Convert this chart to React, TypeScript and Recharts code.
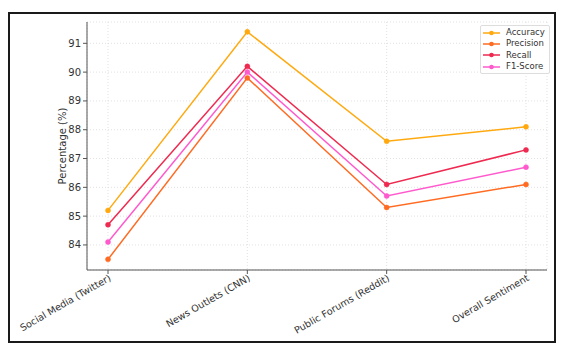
import { LineChart, Line, XAxis, YAxis, CartesianGrid } from 'recharts';

const categories = ['Social Media (Twitter)', 'News Outlets (CNN)', 'Public Forums (Reddit)', 'Overall Sentiment'];
const accuracy = [85.2, 91.4, 87.6, 88.1];
const precision = [83.5, 89.8, 85.3, 86.1];
const recall = [84.7, 90.2, 86.1, 87.3];
const f1Score = [84.1, 90.0, 85.7, 86.7];
const yTicks = [84, 85, 86, 87, 88, 89, 90, 91];

const seriesInfo = [
  { key: 'Accuracy', color: '#FFA90F' },
  { key: 'Precision', color: '#FF6B22' },
  { key: 'Recall', color: '#EE2A50' },
  { key: 'F1-Score', color: '#FF5ACD' },
];

const data = categories.map((name, i) => ({
  name,
  Accuracy: accuracy[i],
  Precision: precision[i],
  Recall: recall[i],
  'F1-Score': f1Score[i],
}));

const FONT = '"DejaVu Sans", Verdana, sans-serif';

const XTick = (props: any) => {
  const { x, y, payload } = props;
  return (
    <g transform={`translate(${x + 2},${y + 1}) rotate(-30)`}>
      <text x={0} y={0} dy="0.35em" textAnchor="end" fontSize={9.6} fill="#333" fontFamily={FONT}>
        {payload.value}
      </text>
    </g>
  );
};

const YLabel = (props: any) => {
  const { viewBox } = props;
  const cx = viewBox.x + 35;
  const cy = viewBox.y + viewBox.height / 2;
  return (
    <text x={cx} y={cy} transform={`rotate(-90 ${cx} ${cy})`} textAnchor="middle" dominantBaseline="central"
      fontSize={10} fill="#333" fontFamily={FONT}>
      Percentage (%)
    </text>
  );
};

const LegendBox = () => (
  <div style={{
    position: 'absolute', left: 480, top: 25,
    background: 'rgba(255,255,255,0.85)', border: '1px solid #ddd', borderRadius: 2,
    padding: '1px 4px 1px 2px', fontFamily: FONT, fontSize: 8.5, color: '#333', lineHeight: '11.3px',
  }}>
    {seriesInfo.map(s => (
      <div key={s.key} style={{ display: 'flex', alignItems: 'center' }}>
        <svg width={18} height={8} style={{ marginRight: 5 }}>
          <line x1={0} y1={4} x2={17} y2={4} stroke={s.color} strokeWidth={1.5} />
          <circle cx={8.5} cy={4} r={2.3} fill={s.color} />
        </svg>
        <span>{s.key}</span>
      </div>
    ))}
  </div>
);

export default function App() {
  return (
    <div style={{ position: 'absolute', left: 0, top: 0, width: 565, height: 350, background: '#fff' }}>
      <div style={{
        position: 'absolute', left: 8, top: 12, width: 548, height: 331,
        boxSizing: 'border-box', border: '2px solid #1a1a1a',
      }} />
      <LineChart width={565} height={350} data={data} margin={{ top: 22, right: 18, bottom: 50, left: 27 }}>
        <CartesianGrid stroke="#d9d9d9" strokeDasharray="1 2" strokeWidth={0.8} />
        <XAxis dataKey="name" height={30} padding={{ left: 21, right: 21 }} interval={0}
          stroke="#555" tickSize={4} tick={<XTick />} />
        <YAxis type="number" domain={[83.13, 91.74]} ticks={yTicks} allowDataOverflow width={60}
          stroke="#555" tickSize={4} tick={{ fontSize: 10, fill: '#333', fontFamily: FONT }}
          label={<YLabel />} />
        {seriesInfo.map(s => (
          <Line key={s.key} type="linear" dataKey={s.key} stroke={s.color} strokeWidth={1.5}
            dot={{ r: 2.5, fill: s.color, stroke: s.color, strokeWidth: 0.5 }} activeDot={false}
            isAnimationActive={false} />
        ))}
      </LineChart>
      <LegendBox />
    </div>
  );
}
